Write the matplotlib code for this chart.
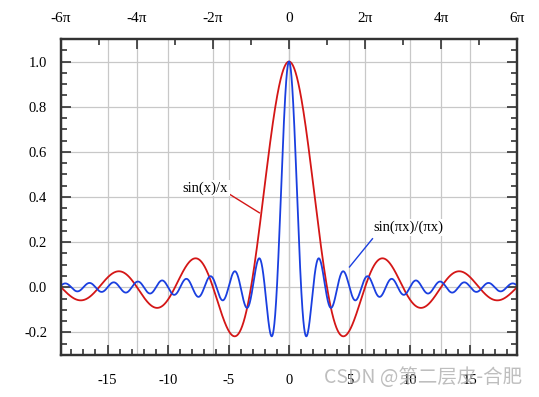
import numpy as np
from matplotlib import pyplot as plt

# Dados do grafico (funcoes sinc)
x_min, x_max = -6 * np.pi, 6 * np.pi
n_pontos = 4000
y_lim = (-0.3, 1.1)

ticks_baixo = [-15, -10, -5, 0, 5, 10, 15]
ticks_cima = [-6, -4, -2, 0, 2, 4, 6]  # multiplos de pi
rotulos_cima = ["-6π", "-4π", "-2π", "0", "2π", "4π", "6π"]
ticks_y = [-0.2, 0.0, 0.2, 0.4, 0.6, 0.8, 1.0]

x = np.linspace(x_min, x_max, n_pontos)
y_sinx = np.sinc(x / np.pi)   # sin(x)/x
y_sinpix = np.sinc(x)         # sin(pi x)/(pi x)

plt.rcParams['font.family'] = ['Liberation Serif', 'DejaVu Serif']
plt.rcParams['axes.unicode_minus'] = False

fig = plt.figure(figsize=(5.39, 3.97), dpi=100)
ax = fig.add_axes([0.1132, 0.1058, 0.8460, 0.7960])

# grade
for xv in ticks_baixo:
    ax.axvline(xv, color='#c8c8c8', lw=0.9, zorder=0)
for xv in ticks_cima:
    ax.axvline(xv * np.pi, color='#c8c8c8', lw=0.9, zorder=0)
for yv in ticks_y:
    ax.axhline(yv, color='#c8c8c8', lw=0.9, zorder=0)

ax.plot(x, y_sinx, color='#d41616', lw=1.3, zorder=3)
ax.plot(x, y_sinpix, color='#1a3fe0', lw=1.3, zorder=3)

ax.set_xlim(x_min, x_max)
ax.set_ylim(*y_lim)
ax.set_xticks(ticks_baixo)
ax.set_xticks(np.arange(-18, 19, 1), minor=True)
ax.set_yticks(ticks_y)
ax.set_yticklabels([f"{v:.1f}" for v in ticks_y])
ax.set_yticks(np.arange(-0.3, 1.1001, 0.05), minor=True)

ax.tick_params(axis='both', which='both', direction='in', color='#333333',
               labelsize=10.5, top=False, right=True)
ax.tick_params(axis='both', which='major', length=7, width=1.2)
ax.tick_params(axis='both', which='minor', length=4, width=1.2)
ax.tick_params(axis='x', pad=14)
ax.tick_params(axis='y', pad=10)

for s in ax.spines.values():
    s.set_linewidth(1.6)
    s.set_color('#333333')

# eixo superior em multiplos de pi
ax2 = ax.twiny()
ax2.set_xlim(x_min, x_max)
ax2.set_xticks([t * np.pi for t in ticks_cima])
ax2.set_xticklabels(rotulos_cima)
ax2.set_xticks([t * np.pi for t in [-5, -3, -1, 1, 3, 5]], minor=True)
ax2.tick_params(axis='x', which='both', direction='in', color='#333333',
                labelsize=11, pad=10)
ax2.tick_params(axis='x', which='major', length=7, width=1.2)
ax2.tick_params(axis='x', which='minor', length=4, width=1.2)
for s in ax2.spines.values():
    s.set_linewidth(1.6)
    s.set_color('#333333')

# anotacoes
ax.text(-6.9, 0.44, "sin(x)/x", fontsize=10.5, ha='center', va='center', zorder=5,
        bbox=dict(facecolor='white', edgecolor='none', pad=1))
ax.plot([-5.0, -2.45], [0.415, 0.33], color='#d41616', lw=1.0, zorder=4)
ax.text(9.9, 0.265, "sin(πx)/(πx)", fontsize=10.5, ha='center', va='center', zorder=5,
        bbox=dict(facecolor='white', edgecolor='none', pad=1))
ax.plot([6.9, 5.0], [0.215, 0.09], color='#1a3fe0', lw=1.0, zorder=4)

# marca d'agua
fig.text(0.969, 0.050, "CSDN @第二层皮-合肥", ha='right', va='center', fontsize=14,
         color='#a8a8a8', alpha=0.75, family=['Noto Sans CJK SC', 'DejaVu Sans'])

fig.savefig("out.png", dpi=100)
